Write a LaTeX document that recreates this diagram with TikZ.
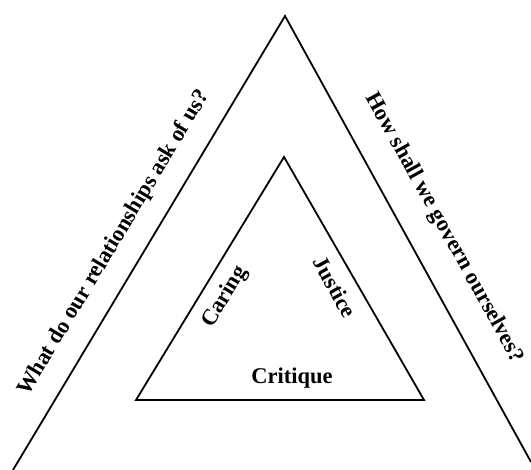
\documentclass[tikz,border=0pt]{standalone}
\usepackage{fontspec}
\setmainfont{Liberation Serif}
\begin{document}
\begin{tikzpicture}[
    x=1pt, y=-1pt,
    every node/.style={font=\bfseries\fontsize{22.5}{25}\selectfont, inner sep=0pt},
    edge/.style={line width=1.8pt, line join=miter}
]
    \useasboundingbox (0,0) rectangle (531,470);

    % outer triangle, open at the bottom
    \coordinate (top) at (285,16);
    \coordinate (outL) at (13,470);
    \coordinate (outR) at (531,462);
    \draw[edge] (outL) -- (top) -- (outR);

    % inner triangle
    \coordinate (apex) at (284,157);
    \coordinate (inL) at (136,400);
    \coordinate (inR) at (424,400);
    \draw[edge] (inL) -- (apex) -- (inR) -- cycle;

    % questions along the outer sides
    \node[rotate=59] (ask) at (114,243) {What do our relationships ask of us?};
    \node[rotate=-61] (govern) at (444,228) {How shall we govern ourselves?};

    % inner labels
    \node[rotate=59] (caring) at (225,297) {Caring};
    \node[rotate=-61] (justice) at (335,287) {Justice};
    \node (critique) at (292,378) {Critique};
\end{tikzpicture}
\end{document}
